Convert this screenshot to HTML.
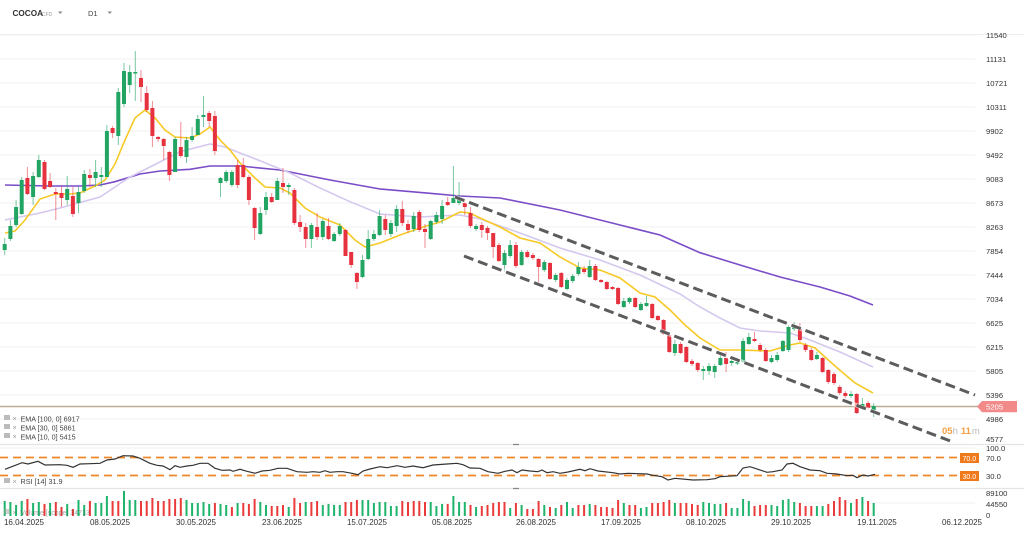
<!DOCTYPE html>
<html><head><meta charset="utf-8"><style>
html,body{margin:0;padding:0;background:#fff;}
svg{display:block;font-family:"Liberation Sans",sans-serif;}
</style></head><body>
<svg width="1024" height="535" viewBox="0 0 1024 535" xmlns="http://www.w3.org/2000/svg">
<rect width="1024" height="535" fill="#fff"/>
<!-- header -->
<text x="12.5" y="16" font-size="8.2" font-weight="bold" fill="#333">COCOA</text>
<text x="42" y="16" font-size="5" fill="#999">CFD</text>
<path d="M58 11.5h4.5l-2.25 2.5z" fill="#888"/>
<text x="88" y="16" font-size="7.5" fill="#444">D1</text>
<path d="M107.5 11.5h4.5l-2.25 2.5z" fill="#888"/>
<!-- gridlines -->
<g stroke="#f1f1f1" stroke-width="1">
<path d="M0 35H975M0 59H975M0 83H975M0 107H975M0 131H975M0 155H975M0 179H975M0 203H975M0 227H975M0 251H975M0 275H975M0 299H975M0 323H975M0 347H975M0 371H975M0 395H975M0 419H975"/>
<path d="M0 448H975M0 503H975"/>
</g>
<path d="M0 34.5H1024" stroke="#eeeeee" stroke-width="1"/>
<!-- pane separators -->
<path d="M0 444.5H1024M0 488.5H1024" stroke="#e4e4e4" stroke-width="1.2"/>
<path d="M513 444.5h6M513 488.5h6" stroke="#888" stroke-width="1.2"/>
<!-- EMA lines -->
<polyline fill="none" stroke="#7a4cc8" stroke-width="1.6" points="5,185 50,186 80,186 100,185 115,181.7 140,174 160,171 190,169.3 210,166 240,166 280,170 330,180 380,189 430,193.3 460,196 500,198 560,210 620,225 660,235 700,252.7 740,265 780,277 820,287 850,296 873,305"/>
<polyline fill="none" stroke="#d4c8ee" stroke-width="1.6" points="5,220 40,213 60,208 100,197 115,187 130,177 150,167 180,151.7 210,144 225,147 240,153 260,160.7 290,173 320,188 350,201.7 380,214 420,217 460,215 480,219 520,233 560,248 600,260 640,275 680,294 700,307 720,318 740,328 760,331 790,333 810,340 840,352 873,367"/>
<polyline fill="none" stroke="#f7c926" stroke-width="1.6" points="5,233 15,231 25,220 40,199 55,194 70,194 80,193 95,186 105,180 115,164 125,140 135,118 145,110 155,118 165,130 175,137 190,138 200,134 210,127 220,140 230,150 240,163 255,178 265,187 280,188 290,193 305,208 320,217 340,225 355,240 365,247 380,243 400,235 420,228 440,222 460,212 470,213 480,218 500,227 520,238 540,243 560,257 580,268 600,270 620,278 640,293 655,297 670,310 685,325 700,338 720,350 740,350 770,351 790,345 800,343 815,348 835,366 855,383 873,393"/>
<!-- price line -->
<path d="M0 406.5H978" stroke="#bcae92" stroke-width="1.4"/>
<!-- candles green -->
<path fill="none" stroke="#22a463" stroke-opacity="0.6" stroke-width="1" d="M4.7 238V255M10.4 220V241M16.1 200V227M21.7 177V215M33.1 172V205M38.8 155V178M67.2 176V205M78.5 187V213M84.2 170V193M95.6 160V187M101.3 167V187M106.9 125V177M118.3 88V145M124 63V107M129.7 65V93M135.3 51V101M175.1 137V172M186.5 137V163M192.1 127V142M197.8 115V135M203.5 96V127M220.5 177V197M226.2 170V183M231.9 170V187M260.3 207V235M266 192V215M277.3 178V200M288.7 183V195M311.4 223V248M322.8 219V240M334.1 232V242M339.8 223V236M362.5 255V278M368.2 230V260M373.9 230V241M379.6 210V236M390.9 220V237M396.6 205V232M413.7 212V232M430.7 220V240M436.4 212V224M442.1 200V224M453.4 166V203M459.1 182V205M476.1 224V231M504.5 250V272M510.2 240V258M521.6 250V266M544.3 260V272M555.7 273V282M567 278V290M572.7 274V283M578.4 262V276M589.7 260V278M623.8 298V308M629.5 297V304M640.9 302V311M646.5 296V307M674.9 340V356M703.3 366V380M709 363V375M714.7 364V378M720.4 352V366M731.7 358V366M737.4 358V365M743.1 338V363M748.8 333V345M771.5 355V363M777.2 352V362M782.9 340V352M788.5 325V352M794.2 322V331M816.9 352V360M851 391V398M862.4 398V410M873.7 403V417"/>
<path fill="#22a463" d="M2.7 244h4v6h-4zM8.4 226h4v13h-4zM14.1 207h4v18h-4zM19.7 180h4v34h-4zM31.1 176h4v21h-4zM36.8 160h4v17h-4zM65.2 189h4v11h-4zM76.5 192h4v11h-4zM82.2 174h4v17h-4zM93.6 172h4v6h-4zM99.3 175h4v2h-4zM104.9 131h4v46h-4zM116.3 92h4v44h-4zM122 71h4v33h-4zM127.7 72h4v13h-4zM133.3 72h4v1.5h-4zM173.1 139h4v33h-4zM184.5 140h4v17h-4zM190.1 136h4v4h-4zM195.8 119h4v16h-4zM201.5 115h4v2h-4zM218.5 178h4v5h-4zM224.2 172h4v9h-4zM229.9 172h4v13h-4zM258.3 213h4v21h-4zM264 197h4v13h-4zM275.3 181h4v19h-4zM286.7 185h4v2h-4zM309.4 225h4v14h-4zM320.8 221h4v16h-4zM332.1 234h4v7h-4zM337.8 226h4v8h-4zM360.5 260h4v17h-4zM366.2 239h4v20h-4zM371.9 234h4v5h-4zM377.6 216h4v19h-4zM388.9 223h4v11h-4zM394.6 209h4v17h-4zM411.7 216h4v13h-4zM428.7 221h4v18h-4zM434.4 215h4v7h-4zM440.1 206h4v13h-4zM451.4 198h4v5h-4zM457.1 199h4v4h-4zM474.1 226h4v3h-4zM502.5 253h4v12h-4zM508.2 245h4v11h-4zM519.6 252h4v13h-4zM542.3 262h4v8h-4zM553.7 275h4v5h-4zM565 280h4v9h-4zM570.7 276h4v5h-4zM576.4 267h4v7h-4zM587.7 266h4v11h-4zM621.8 301h4v6h-4zM627.5 298h4v4h-4zM638.9 304h4v6h-4zM644.5 303h4v3h-4zM672.9 344h4v9h-4zM701.3 369h4v2h-4zM707 366h4v5h-4zM712.7 366h4v6h-4zM718.4 358h4v7h-4zM729.7 361h4v2h-4zM735.4 362h4v1.5h-4zM741.1 341h4v21h-4zM746.8 337h4v7h-4zM769.5 358h4v4h-4zM775.2 355h4v5h-4zM780.9 341h4v10h-4zM786.5 327h4v23h-4zM792.2 327h4v2h-4zM814.9 355h4v4h-4zM849 394h4v2h-4zM860.4 404h4v3h-4zM871.7 406h4v4h-4z"/>
<!-- candles red -->
<path fill="none" stroke="#e5323e" stroke-opacity="0.55" stroke-width="1" d="M27.4 167V195M44.5 160V190M50.1 173V188M55.8 188V220M61.5 186V207M72.9 187V217M89.9 169V187M112.6 126V138M141 70V102M146.7 86V112M152.4 101V147M158.1 136V142M163.7 138V160M169.4 151V181M180.8 122V158M209.2 111V127M214.9 111V155M237.6 160V188M243.3 158V178M248.9 175V205M254.6 207V240M271.7 193V203M283 168V193M294.4 188V225M300.1 215V232M305.7 223V248M317.1 213V240M328.5 218V240M345.5 229V256M351.2 252V268M356.9 272V289M385.3 215V235M402.3 201V226M408 220V233M419.3 210V232M425 224V248M447.7 197V206M464.8 200V215M470.5 207V228M481.8 222V238M487.5 226V240M493.2 233V258M498.9 243V262M515.9 242V268M527.3 250V258M532.9 253V260M538.6 258V282M550 262V280M561.3 272V288M584.1 266V274M595.4 264V281M601.1 279V283M606.8 281V290M612.5 286V290M618.1 287V305M635.2 297V308M652.2 303V319M657.9 315V321M663.6 319V335M669.3 334V353M680.6 342V354M686.3 346V363M692 359V366M697.7 362V372M726.1 352V372M754.5 332V342M760.1 343V352M765.8 348V362M799.9 323V342M805.6 343V352M811.3 348V361M822.6 357V373M828.3 369V384M834 372V385M839.7 385V395M845.3 391V398M856.7 393V414M868.1 401V410"/>
<path fill="#e5323e" d="M25.4 178h4v16h-4zM42.5 162h4v27h-4zM48.1 181h4v6h-4zM53.8 192h4v2h-4zM59.5 193h4v5h-4zM70.9 196h4v18h-4zM87.9 175h4v3h-4zM110.6 128h4v5h-4zM139 78h4v9h-4zM144.7 93h4v17h-4zM150.4 108h4v28h-4zM156.1 137h4v2h-4zM161.7 139h4v7h-4zM167.4 152h4v23h-4zM178.8 147h4v9h-4zM207.2 113h4v8h-4zM212.9 116h4v35h-4zM235.6 165h4v20h-4zM241.3 165h4v12h-4zM246.9 177h4v23h-4zM252.6 208h4v20h-4zM269.7 197h4v5h-4zM281 183h4v4h-4zM292.4 190h4v33h-4zM298.1 222h4v5h-4zM303.7 227h4v12h-4zM315.1 227h4v10h-4zM326.5 226h4v13h-4zM343.5 230h4v26h-4zM349.2 252h4v13h-4zM354.9 273h4v9h-4zM383.3 219h4v11h-4zM400.3 209h4v14h-4zM406 224h4v6h-4zM417.3 212h4v18h-4zM423 229h4v3h-4zM445.7 202h4v3h-4zM462.8 203h4v4h-4zM468.5 213h4v13h-4zM479.8 225h4v5h-4zM485.5 228h4v5h-4zM491.2 233h4v14h-4zM496.9 245h4v16h-4zM513.9 245h4v21h-4zM525.3 252h4v5h-4zM530.9 255h4v3h-4zM536.6 259h4v8h-4zM548 263h4v16h-4zM559.3 273h4v14h-4zM582.1 269h4v3h-4zM593.4 266h4v14h-4zM599.1 280h4v2h-4zM604.8 282h4v7h-4zM610.5 287h4v2h-4zM616.1 288h4v16h-4zM633.2 298h4v9h-4zM650.2 304h4v14h-4zM655.9 316h4v4h-4zM661.6 320h4v14h-4zM667.3 335h4v17h-4zM678.6 344h4v9h-4zM684.3 347h4v15h-4zM690 361h4v3h-4zM695.7 363h4v7h-4zM724.1 358h4v6h-4zM752.5 339h4v2h-4zM758.1 345h4v5h-4zM763.8 350h4v11h-4zM797.9 329h4v11h-4zM803.6 345h4v5h-4zM809.3 350h4v10h-4zM820.6 358h4v14h-4zM826.3 370h4v12h-4zM832 374h4v9h-4zM837.7 387h4v6h-4zM843.3 393h4v3h-4zM854.7 394h4v19h-4zM866.1 403h4v5h-4z"/>
<!-- channel lines -->
<g stroke-linecap="butt" fill="none">
<path d="M455 197L975 395M464 256L953 442" stroke="#ffffff" stroke-width="4.5" stroke-opacity="0.6"/>
<path d="M455 197L975 395M464 256L953 442" stroke="#5c5c5c" stroke-width="3" stroke-dasharray="10 5"/>
</g>
<!-- price axis labels -->
<g font-size="7.7" fill="#333">
<text x="986" y="38">11540</text><text x="986" y="62">11131</text><text x="986" y="86">10721</text><text x="986" y="110">10311</text><text x="986" y="134">9902</text><text x="986" y="158">9492</text><text x="986" y="182">9083</text><text x="986" y="206">8673</text><text x="986" y="230">8263</text><text x="986" y="254">7854</text><text x="986" y="278">7444</text><text x="986" y="302">7034</text><text x="986" y="326">6625</text><text x="986" y="350">6215</text><text x="986" y="374">5805</text><text x="986" y="398">5396</text><text x="986" y="422">4986</text><text x="986" y="442">4577</text>
</g>
<path d="M977 406.5L982 401H1017V412.3H982Z" fill="#f28a8a"/>
<text x="986" y="409.5" font-size="7.7" fill="#fff">5205</text>
<text x="942" y="434" font-size="9.5" font-weight="bold" fill="#f5a045">05<tspan fill="#bbb" font-weight="normal">h</tspan><tspan dx="3">11</tspan><tspan fill="#bbb" font-weight="normal" dx="1">m</tspan></text>
<!-- legend -->
<g font-size="7.2" fill="#444">
<rect x="4" y="415" width="6" height="5" fill="#bbb"/><text x="12.5" y="421" fill="#999">×</text><text x="20.5" y="421.5">EMA [100, 0] 6917</text>
<rect x="4" y="424" width="6" height="5" fill="#bbb"/><text x="12.5" y="430" fill="#999">×</text><text x="20.5" y="430.5">EMA [30, 0] 5861</text>
<rect x="4" y="433" width="6" height="5" fill="#bbb"/><text x="12.5" y="439" fill="#999">×</text><text x="20.5" y="439.5">EMA [10, 0] 5415</text>
<rect x="4" y="478" width="6" height="5" fill="#bbb"/><text x="12.5" y="484" fill="#999">×</text><text x="20.5" y="484">RSI [14] 31.9</text>
</g>
<!-- RSI -->
<path d="M0 457.5H958M0 475.5H958" stroke="#f0862a" stroke-width="1.8" stroke-dasharray="8 5"/>
<polyline fill="none" stroke="#333" stroke-width="1.2" points="5,469.3 22,462.7 28,464 38,461.3 45,465 60,464.7 67,465.3 73,467.3 80,464 90,463.7 100,463.3 107,460 115,459 123,455.7 133,456 140,458.3 150,463.3 157,465.3 163,466 170,469.7 175,465.7 180,467.3 187,466 193,465.3 200,463.3 208,463.3 215,468.3 222,470.3 230,470 233,471.3 240,469.3 247,471.3 255,473.3 262,471 270,470.3 278,468.3 287,468.3 297,471.7 307,472.3 313,471.7 320,472.3 325,470.7 330,472.3 337,471.7 343,471.7 352,473.3 358,474.7 363,471 370,469 380,466.7 387,467.7 397,465.7 405,467.3 413,466 423,467.7 433,465 447,464 457,463.3 463,464.7 470,468 480,468.3 488,471.7 498,473.3 505,471.3 512,470 517,472.7 522,470 530,471 538,471.7 542,470 547,472.7 553,471.7 560,473.3 568,472 580,469.3 585,470.7 590,468.7 598,471 613,472.7 620,474 628,473.3 647,474 653,475.3 662,476.7 668,480 675,478.3 693,480 707,479.7 715,478.7 720,476.7 737,475.7 743,468 750,466.7 758,469.3 767,472.3 773,471.7 782,470 787,464 793,463.3 800,466.7 810,470 820,470.7 827,473.3 837,474 847,475.7 853,475.3 857,477.7 863,475 868,476 875,474.3"/>
<rect x="960" y="453" width="19" height="10" fill="#f07a1a"/>
<text x="962.5" y="460.8" font-size="7" fill="#fff">70.0</text>
<rect x="960" y="471" width="19" height="10" fill="#f07a1a"/>
<text x="962.5" y="478.8" font-size="7" fill="#fff">30.0</text>
<g font-size="7.7" fill="#333">
<text x="986" y="451">100.0</text><text x="986" y="461">70.0</text><text x="986" y="479">30.0</text>
<text x="986" y="496">89100</text><text x="986" y="507">44550</text><text x="986" y="518">0</text>
</g>
<!-- volume -->
<path fill="none" stroke="#1fb46b" stroke-width="2" d="M4.7 501V516M10.4 502V516M16.1 505V516M21.7 501V516M33.1 503V516M38.8 502V516M50.1 503V516M67.2 504V516M78.5 500V516M84.2 505V516M95.6 503V516M101.3 503V516M106.9 496V516M124 491V516M129.7 500V516M135.3 500V516M186.5 500V516M192.1 503V516M197.8 503V516M203.5 502V516M209.2 504V516M220.5 504V516M226.2 505V516M237.6 503V516M260.3 502V516M266 505V516M288.7 507V516M305.7 502V516M322.8 505V516M328.5 504V516M334.1 505V516M339.8 505V516M362.5 500V516M368.2 500V516M373.9 503V516M379.6 502V516M385.3 502V516M390.9 506V516M396.6 506V516M430.7 502V516M436.4 506V516M442.1 504V516M453.4 496V516M459.1 502V516M464.8 502V516M476.1 507V516M510.2 508V516M521.6 505V516M544.3 505V516M555.7 508V516M567 502V516M572.7 508V516M589.7 504V516M623.8 503V516M640.9 508V516M646.5 507V516M674.9 503V516M703.3 502V516M709 503V516M714.7 504V516M720.4 504V516M731.7 508V516M737.4 508V516M743.1 499V516M748.8 501V516M771.5 505V516M777.2 506V516M782.9 500V516M788.5 499V516M794.2 502V516M816.9 506V516M822.6 506V516M851 503V516M862.4 497V516M873.7 503V516"/>
<path fill="none" stroke="#ea3a3a" stroke-width="2" d="M27.4 499V516M44.5 504V516M55.8 502V516M61.5 507V516M72.9 509V516M89.9 501V516M112.6 501V516M118.3 501V516M141 501V516M146.7 501V516M152.4 498V516M158.1 501V516M163.7 501V516M169.4 499V516M175.1 499V516M180.8 498V516M214.9 503V516M231.9 507V516M243.3 503V516M248.9 504V516M254.6 499V516M271.7 506V516M277.3 506V516M283 505V516M294.4 498V516M300.1 503V516M311.4 502V516M317.1 501V516M345.5 502V516M351.2 502V516M356.9 500V516M402.3 501V516M408 502V516M413.7 501V516M419.3 501V516M425 502V516M447.7 504V516M470.5 505V516M481.8 506V516M487.5 505V516M493.2 503V516M498.9 502V516M504.5 502V516M515.9 503V516M527.3 509V516M532.9 509V516M538.6 501V516M550 507V516M561.3 505V516M578.4 505V516M584.1 505V516M595.4 505V516M601.1 507V516M606.8 507V516M612.5 508V516M618.1 500V516M629.5 505V516M635.2 505V516M652.2 503V516M657.9 503V516M663.6 502V516M669.3 500V516M680.6 503V516M686.3 503V516M692 504V516M697.7 505V516M726.1 503V516M754.5 506V516M760.1 505V516M765.8 505V516M799.9 503V516M805.6 506V516M811.3 506V516M828.3 504V516M834 501V516M839.7 497V516M845.3 500V516M856.7 499V516M868.1 501V516"/>
<g opacity="0.45" font-size="7" fill="#444">
<rect x="4" y="509" width="6" height="5" fill="#999"/><text x="12.5" y="515">×</text><text x="20.5" y="515">Volume [scope] 34713</text>
</g>
<!-- date axis -->
<g font-size="8" fill="#333" text-anchor="middle">
<text x="24" y="525">16.04.2025</text><text x="110" y="525">08.05.2025</text><text x="196" y="525">30.05.2025</text><text x="282" y="525">23.06.2025</text><text x="367" y="525">15.07.2025</text><text x="452" y="525">05.08.2025</text><text x="536" y="525">26.08.2025</text><text x="621" y="525">17.09.2025</text><text x="706" y="525">08.10.2025</text><text x="791" y="525">29.10.2025</text><text x="877" y="525">19.11.2025</text><text x="962" y="525">06.12.2025</text>
</g>
</svg>
</body></html>
